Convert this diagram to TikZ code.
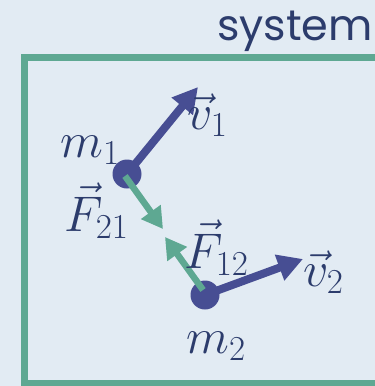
\RequirePackage{fix-cm}
\documentclass[tikz,border=0pt]{standalone}
\usepackage{amsmath}
\usepackage{fontspec}
\newfontfamily\sysfont{Poppins}
\usetikzlibrary{arrows.meta, positioning}
\definecolor{bgblue}{HTML}{E2EBF3}
\definecolor{massblue}{HTML}{474E93}
\definecolor{forcegreen}{HTML}{5EA892}
\definecolor{labelblue}{HTML}{2C3C6C}
\tikzset{
  mass/.style={circle, fill=massblue, inner sep=0pt, minimum size=29pt},
  velo/.style={draw=massblue, line width=8pt, -{Triangle[length=25pt,width=26pt]}},
  force/.style={draw=forcegreen, line width=6.5pt, -{Triangle[length=21pt,width=23pt]}},
  lbl/.style={text=labelblue, inner sep=0pt, font=\fontsize{50}{54}\selectfont},
}

\begin{document}
\begin{tikzpicture}[x=1pt, y=-1pt]
        % Background and frame
        \fill[bgblue] (0,0) rectangle (375,386);
        \useasboundingbox (0,0) rectangle (375,386);
        \draw[forcegreen, line width=7pt] (24.5,57) rectangle (395,383.5);
        \node[anchor=base east, text=labelblue, inner sep=0pt,
              font=\sysfont\fontsize{43}{46}\selectfont] (sys) at (373,40) {system};
        % Define the two masses
        \node[mass] (m1) at (127,174) {};
        \node[mass] (m2) at (205,295) {};
        % Define the arrow tips
        \coordinate (v1) at (198,87);
        \coordinate (v2) at (303,259);
        \coordinate (F21) at (163,229);
        \coordinate (F12) at (165,237);
        % Draw the vectors
        \draw[velo] (m1.center) -- (v1);
        \draw[velo] (m2.center) -- (v2);
        \draw[force] ([shift={(-2,2)}]m1.center) -- (F21);
        \draw[force] ([shift={(-2,-5)}]m2.center) -- (F12);
        % Labels
        \node[lbl, anchor=base west] (lm1) at (60,157) {$m_1$};
        \node[lbl, anchor=base west] (lm2) at (186,353) {$m_2$};
        \node[lbl, anchor=base west] (lv1) at (187,129) {$\vec{v}_1$};
        \node[lbl, anchor=base west] (lv2) at (303,286) {$\vec{v}_2$};
        \node[lbl, anchor=base west] (lF21) at (64,231) {$\vec{F}_{21}$};
        \node[lbl, anchor=base west] (lF12) at (184,268) {$\vec{F}_{12}$};
    \end{tikzpicture}
\end{document}
